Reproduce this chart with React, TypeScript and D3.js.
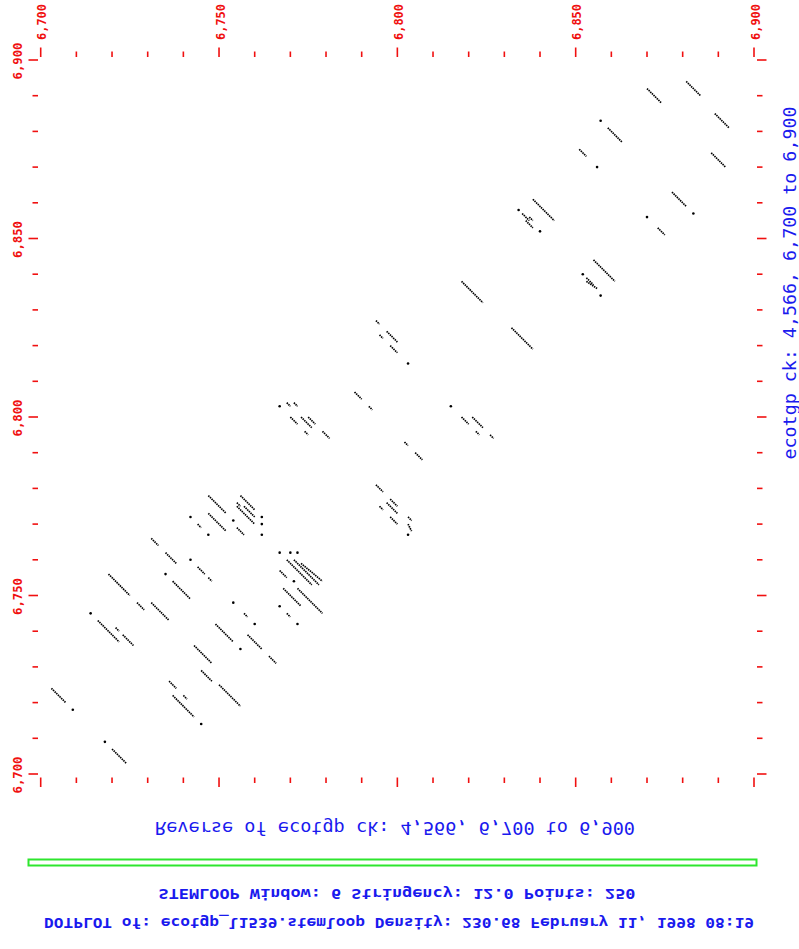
import * as d3 from "d3";

// dotplot matches: [x1, y1, x2, y2] in sequence positions (horizontal 6,700..6,900, vertical 6,700..6,900)
const segments: [number, number, number, number][] = [
  [6870, 6892, 6874, 6888], [6881, 6894, 6885, 6890], [6889, 6885, 6893, 6881],
  [6888, 6874, 6892, 6870], [6859, 6881, 6863, 6877], [6851, 6875, 6853, 6873],
  [6877, 6863, 6881, 6859], [6873, 6853, 6875, 6851], [6838, 6861, 6844, 6855],
  [6835, 6857, 6837, 6855], [6836, 6855, 6838, 6853], [6837, 6856, 6838, 6855],
  [6855, 6844, 6861, 6838], [6853, 6838, 6856, 6836], [6853, 6839, 6855, 6837],
  [6818, 6838, 6824, 6832], [6832, 6825, 6838, 6819],
  [6794, 6827, 6795, 6826], [6797, 6824, 6800, 6821], [6795, 6823, 6796, 6822],
  [6798, 6820, 6800, 6818], [6788, 6807, 6790, 6805], [6792, 6803, 6793, 6802],
  [6769, 6804, 6770, 6803], [6771, 6804, 6772, 6803], [6770, 6800, 6772, 6798],
  [6773, 6800, 6776, 6797], [6775, 6800, 6777, 6798], [6774, 6796, 6775, 6795],
  [6779, 6796, 6781, 6794], [6818, 6800, 6820, 6798], [6821, 6800, 6824, 6797],
  [6822, 6796, 6823, 6795], [6826, 6795, 6827, 6794], [6802, 6793, 6803, 6792],
  [6805, 6790, 6807, 6788], [6794, 6781, 6796, 6779], [6795, 6775, 6796, 6774],
  [6798, 6777, 6800, 6775], [6797, 6776, 6800, 6773], [6798, 6772, 6800, 6770],
  [6803, 6772, 6804, 6771], [6803, 6770, 6804, 6768],
  [6747, 6778, 6752, 6773], [6756, 6778, 6760, 6774], [6755, 6775, 6760, 6770],
  [6757, 6775, 6760, 6772], [6755, 6776, 6756, 6775], [6747, 6773, 6752, 6768],
  [6744, 6770, 6745, 6769], [6755, 6769, 6757, 6767], [6731, 6766, 6733, 6764],
  [6735, 6762, 6738, 6759], [6744, 6758, 6746, 6756], [6747, 6755, 6748, 6754],
  [6719, 6756, 6725, 6750], [6737, 6754, 6742, 6749], [6727, 6748, 6729, 6746],
  [6731, 6748, 6736, 6743], [6716, 6743, 6722, 6737], [6721, 6741, 6722, 6740],
  [6723, 6739, 6726, 6736], [6757, 6745, 6758, 6744], [6749, 6742, 6754, 6737],
  [6758, 6739, 6762, 6735], [6764, 6733, 6766, 6731], [6743, 6736, 6748, 6731],
  [6745, 6729, 6748, 6726], [6750, 6725, 6756, 6719], [6736, 6726, 6738, 6724],
  [6737, 6722, 6743, 6716], [6740, 6722, 6741, 6721], [6703, 6724, 6707, 6720],
  [6720, 6707, 6724, 6703],
  [6769, 6760, 6776, 6753], [6771, 6760, 6778, 6753], [6773, 6759, 6779, 6754],
  [6767, 6757, 6769, 6755], [6768, 6752, 6773, 6747], [6772, 6752, 6779, 6745],
  [6769, 6745, 6770, 6744],
];

const dots: [number, number][] = [
  [6857, 6883], [6856, 6870], [6883, 6857], [6870, 6856], [6834, 6858], [6840, 6852],
  [6852, 6840], [6857, 6834], [6803, 6815], [6767, 6803], [6815, 6803], [6803, 6767],
  [6742, 6772], [6747, 6767], [6754, 6771], [6762, 6772], [6762, 6770], [6762, 6767],
  [6742, 6760], [6735, 6756], [6714, 6745], [6754, 6748], [6760, 6742], [6756, 6735],
  [6745, 6714], [6709, 6718], [6718, 6709], [6767, 6762], [6770, 6762], [6772, 6762],
  [6771, 6754], [6767, 6747], [6772, 6742],
];

const labelTicks = [6700, 6750, 6800, 6850, 6900];

const titleLine = "DOTPLOT of: ecotgp_l1539.stemloop  Density: 230.68  February 11, 1998 08:19";
const paramLine = "STEMLOOP  Window: 6  Stringency: 12.0  Points: 250";
const horizLabel = "Reverse of ecotgp ck: 4,566, 6,700 to 6,900";
const vertLabel = "ecotgp ck: 4,566, 6,700 to 6,900";

const RED = "#f01010";
const BLUE = "#1a1aee";
const MONO = "'DejaVu Sans Mono', monospace";

export default function App() {
  const width = 799;
  const height = 949;

  const x = d3.scaleLinear().domain([6700, 6900]).range([40.7, 754]);
  const y = d3.scaleLinear().domain([6700, 6900]).range([774, 60]);
  const fmt = d3.format(",");

  const top = 57, bottom = 777.5, left = 38, right = 757;
  const ticks = x.ticks(20);

  return (
    <svg width={width} height={height} style={{ position: "absolute", left: 0, top: 0, background: "#fff" }}>
      {/* ticks */}
      <g stroke={RED} strokeWidth={1.6}>
        {ticks.map((t) => {
          const major = t % 50 === 0;
          const len = major ? 9.5 : 5.5;
          return (
            <g key={"t" + t}>
              <line x1={x(t)} x2={x(t)} y1={top} y2={top - len} />
              <line x1={x(t)} x2={x(t)} y1={bottom} y2={bottom + len} />
              <line y1={y(t)} y2={y(t)} x1={left} x2={left - len} />
              <line y1={y(t)} y2={y(t)} x1={right} x2={right + len} />
            </g>
          );
        })}
      </g>

      {/* tick labels */}
      <g fill={RED} fontFamily={MONO} fontSize={12} fontWeight="bold">
        {labelTicks.map((t) => (
          <text
            key={"lx" + t}
            transform={`translate(${x(t) + 1.5},22) rotate(-90)`}
            textAnchor="middle"
            dominantBaseline="central"
            textLength={36}
            lengthAdjust="spacingAndGlyphs"
          >
            {fmt(t)}
          </text>
        ))}
        {labelTicks.map((t) => (
          <text
            key={"ly" + t}
            transform={`translate(17.5,${y(t) + 1}) rotate(-90)`}
            textAnchor="middle"
            dominantBaseline="central"
            textLength={37}
            lengthAdjust="spacingAndGlyphs"
          >
            {fmt(t)}
          </text>
        ))}
      </g>

      {/* matches */}
      <g stroke="#000" strokeWidth={1.7} strokeDasharray="1.5 0.8">
        {segments.map((s, i) => (
          <line key={"s" + i} x1={x(s[0])} y1={y(s[1])} x2={x(s[2])} y2={y(s[3])} />
        ))}
      </g>
      <g fill="#000">
        {dots.map((d, i) => (
          <circle key={"d" + i} cx={x(d[0])} cy={y(d[1])} r={1.3} />
        ))}
      </g>

      {/* vertical sequence label */}
      <text
        transform="translate(790,283) rotate(-90)"
        textAnchor="middle"
        dominantBaseline="central"
        fill={BLUE}
        fontFamily={MONO}
        fontSize={17}
        textLength={353}
        lengthAdjust="spacingAndGlyphs"
      >
        {vertLabel}
      </text>

      {/* horizontal sequence label, flipped */}
      <text
        transform="translate(395,828) scale(1,-1)"
        textAnchor="middle"
        dominantBaseline="central"
        fill={BLUE}
        fontFamily={MONO}
        fontSize={17}
        textLength={480}
        lengthAdjust="spacingAndGlyphs"
      >
        {horizLabel}
      </text>

      <rect x={28.5} y={859.5} width={728} height={6} fill="#fff" stroke="#2ee62e" strokeWidth={2} />

      <text
        transform="translate(397,894) scale(1,-1)"
        textAnchor="middle"
        dominantBaseline="central"
        fill={BLUE}
        fontFamily={MONO}
        fontSize={14}
        fontWeight="bold"
        textLength={477}
        lengthAdjust="spacingAndGlyphs"
      >
        {paramLine}
      </text>
      <text
        transform="translate(399,923) scale(1,-1)"
        textAnchor="middle"
        dominantBaseline="central"
        fill={BLUE}
        fontFamily={MONO}
        fontSize={14}
        fontWeight="bold"
        textLength={710}
        lengthAdjust="spacingAndGlyphs"
      >
        {titleLine}
      </text>
    </svg>
  );
}
